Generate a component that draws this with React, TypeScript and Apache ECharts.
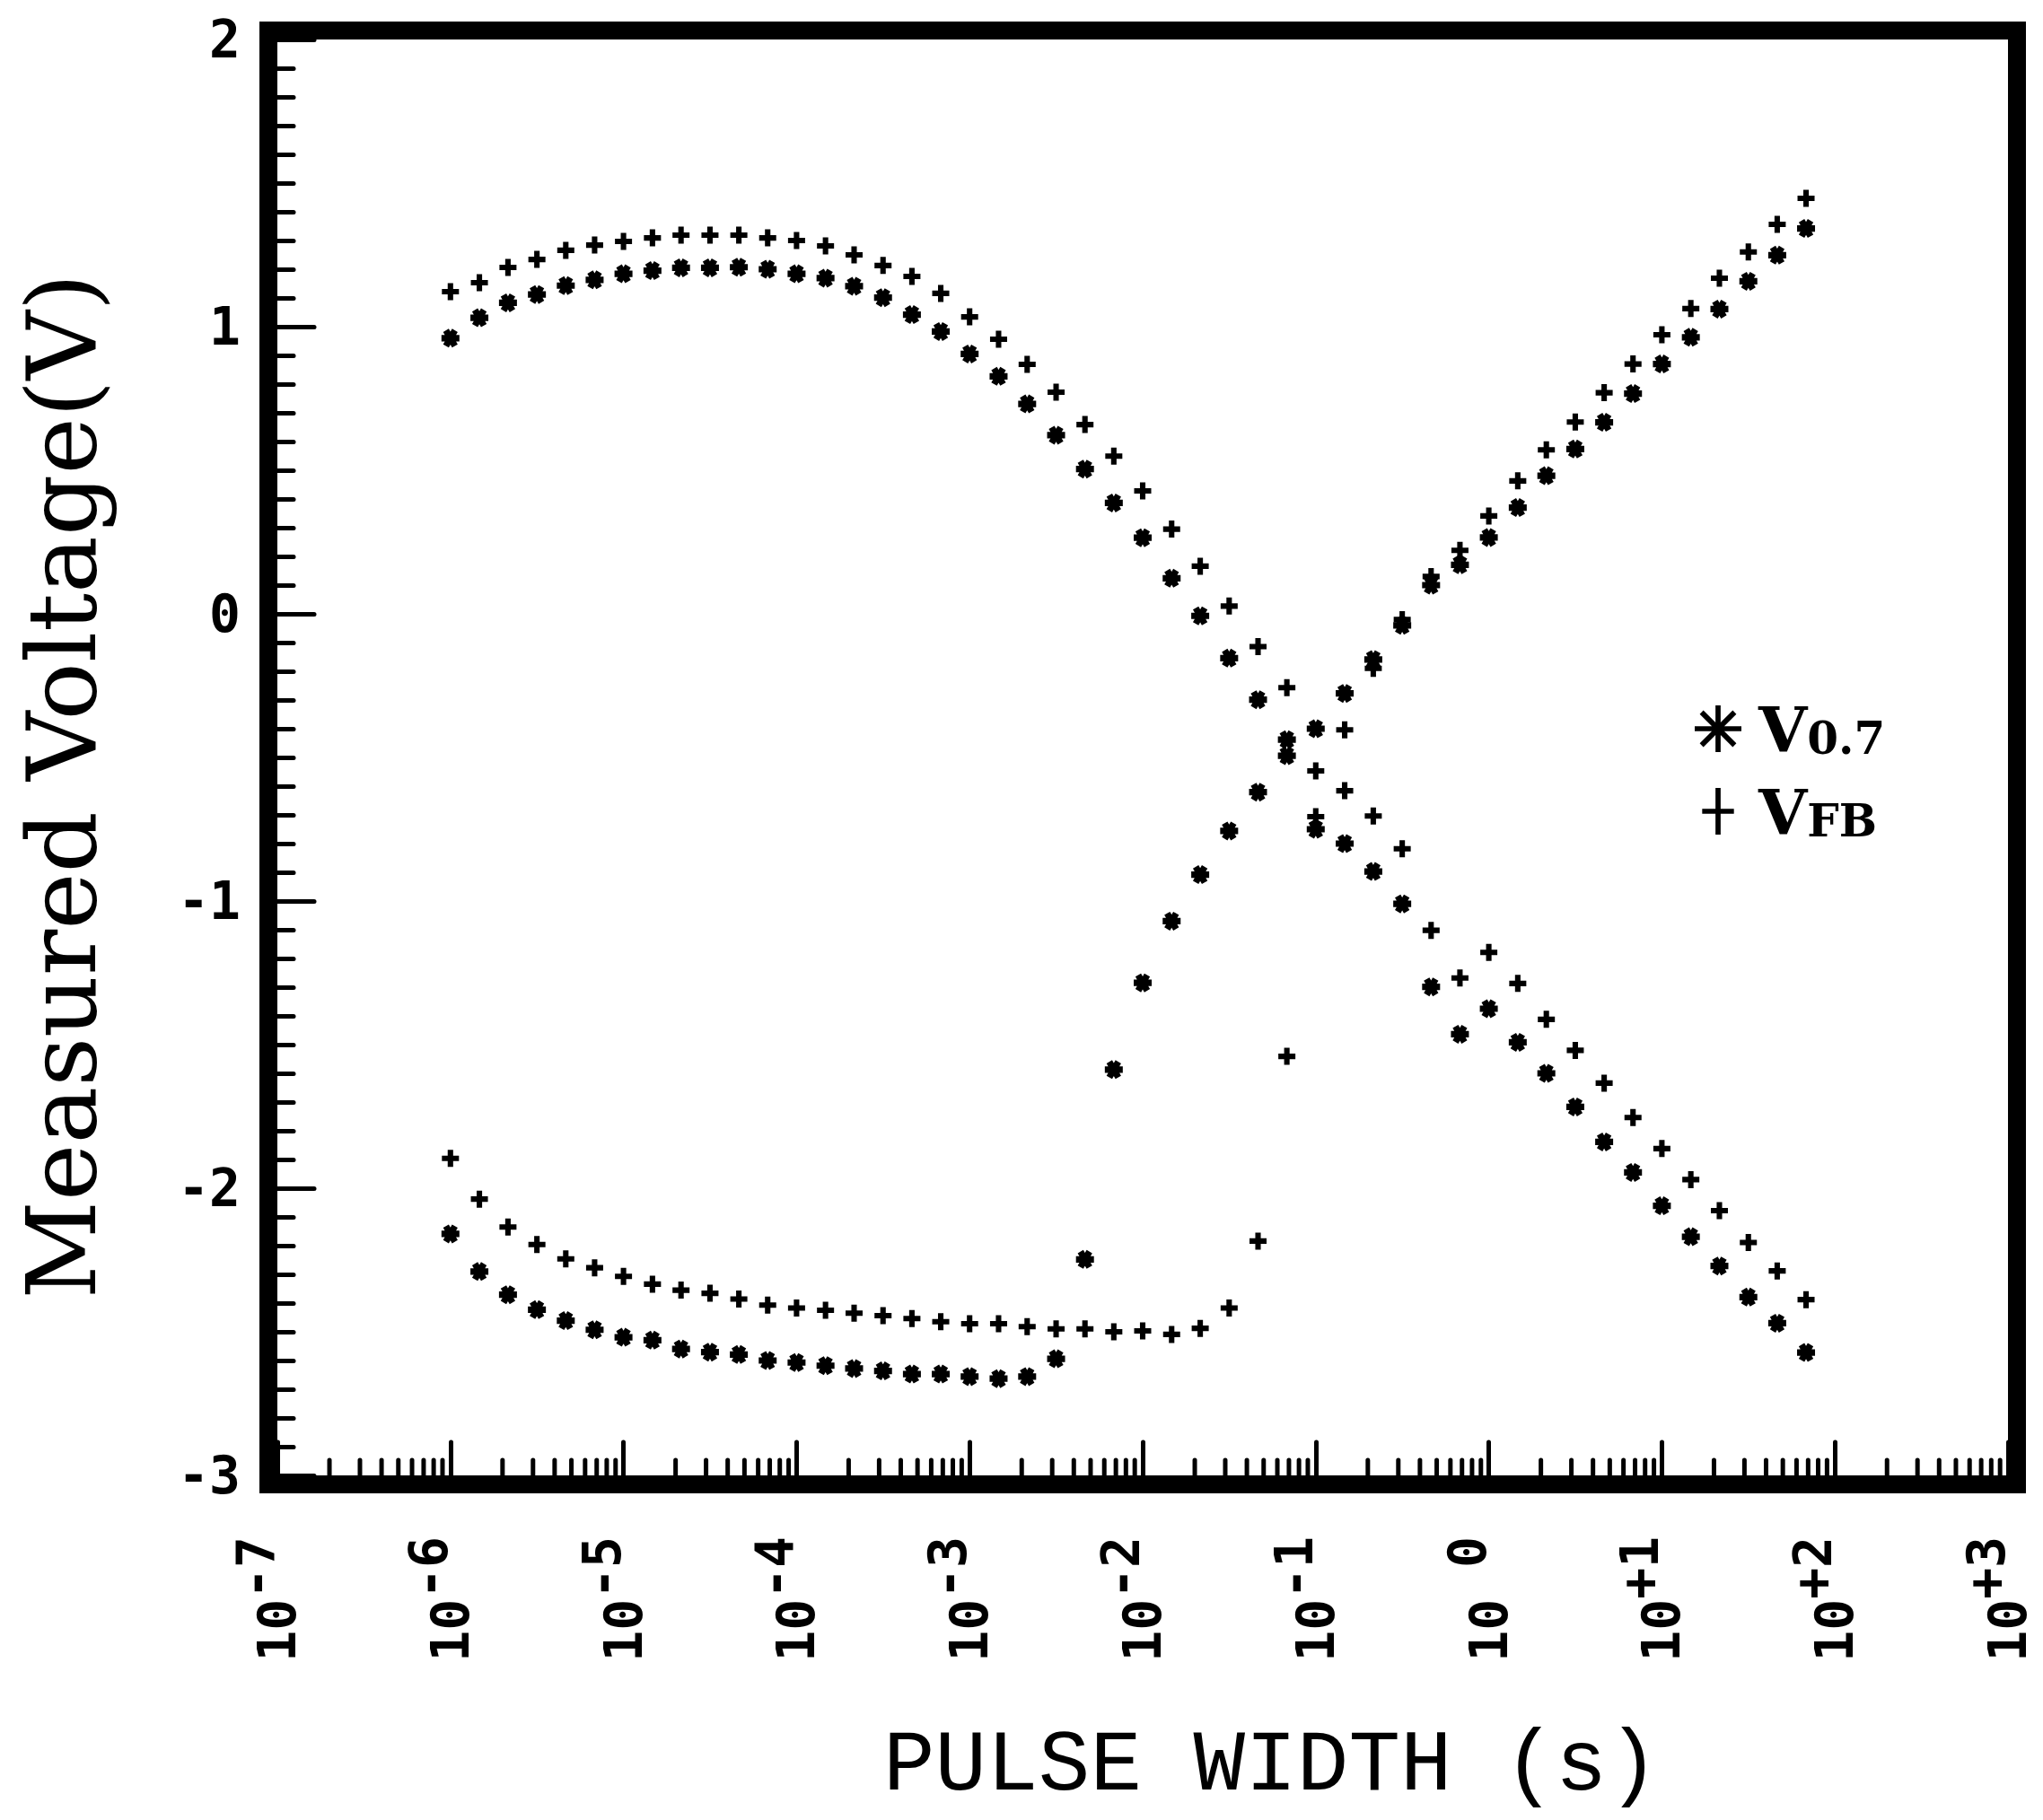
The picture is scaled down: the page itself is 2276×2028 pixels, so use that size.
import React, { useEffect, useRef } from 'react';
import * as echarts from 'echarts';

// ---------- data ----------
// pulse widths in seconds (6 points per decade)
const pulseWidth = [
  1.0e-6, 1.47e-6, 2.15e-6, 3.16e-6, 4.64e-6, 6.81e-6,
  1.0e-5, 1.47e-5, 2.15e-5, 3.16e-5, 4.64e-5, 6.81e-5,
  1.0e-4, 1.47e-4, 2.15e-4, 3.16e-4, 4.64e-4, 6.81e-4,
  1.0e-3, 1.47e-3, 2.15e-3, 3.16e-3, 4.64e-3, 6.81e-3,
  1.0e-2, 1.47e-2, 2.15e-2, 3.16e-2, 4.64e-2, 6.81e-2,
  0.1, 0.147, 0.215, 0.316, 0.464, 0.681,
  1, 1.47, 2.15, 3.16, 4.64, 6.81,
  10, 14.7, 21.5, 31.6, 46.4, 68.1,
];

// V_FB, falling branch (+)
const vfbFall = [
  1.122, 1.153, 1.206, 1.234, 1.266, 1.284, 1.297, 1.309, 1.319, 1.319,
  1.319, 1.309, 1.300, 1.281, 1.250, 1.213, 1.175, 1.116, 1.034, 0.956,
  0.869, 0.772, 0.659, 0.549, 0.428, 0.295, 0.166, 0.027, -0.114, -0.257,
  -0.547, -0.616, -0.704, -0.818, -1.102, -1.268, -1.179, -1.287, -1.412, -1.520,
  -1.634, -1.754, -1.862, -1.970, -2.078, -2.189, -2.288, -2.388,
];

// V_0.7, falling branch (*)
const v07Fall = [
  0.960, 1.031, 1.083, 1.112, 1.143, 1.163, 1.184, 1.195, 1.205, 1.205,
  1.207, 1.200, 1.184, 1.169, 1.141, 1.101, 1.042, 0.983, 0.905, 0.827,
  0.731, 0.622, 0.504, 0.386, 0.265, 0.124, -0.007, -0.154, -0.299, -0.438,
  -0.750, -0.800, -0.897, -1.010, -1.299, -1.464, -1.375, -1.492, -1.600, -1.717,
  -1.839, -1.945, -2.061, -2.169, -2.271, -2.379, -2.470, -2.572,
];

// V_FB, rising branch (+)
const vfbRise = [
  -1.896, -2.038, -2.135, -2.196, -2.246, -2.277, -2.307, -2.334, -2.355, -2.366,
  -2.386, -2.407, -2.417, -2.425, -2.435, -2.444, -2.454, -2.465, -2.472, -2.472,
  -2.482, -2.490, -2.490, -2.500, -2.497, -2.509, -2.488, -2.417, -2.184, -1.541,
  -0.706, -0.404, -0.190, -0.020, 0.130, 0.221, 0.341, 0.463, 0.571, 0.668,
  0.770, 0.870, 0.972, 1.063, 1.169, 1.260, 1.356, 1.447,
];

// V_0.7, rising branch (*)
const v07Rise = [
  -2.159, -2.290, -2.371, -2.423, -2.461, -2.493, -2.519, -2.529, -2.560, -2.571,
  -2.579, -2.600, -2.607, -2.618, -2.628, -2.636, -2.647, -2.647, -2.656, -2.663,
  -2.656, -2.594, -2.248, -1.587, -1.285, -1.070, -0.908, -0.756, -0.621, -0.494,
  -0.400, -0.277, -0.159, -0.040, 0.100, 0.171, 0.266, 0.370, 0.481, 0.574,
  0.667, 0.767, 0.870, 0.963, 1.061, 1.158, 1.249, 1.342,
];

// axis ticks / labels
const decadeExponents = [-7, -6, -5, -4, -3, -2, -1, 0, 1, 2, 3];
const exponentLabels = ['-7', '-6', '-5', '-4', '-3', '-2', '-1', '0', '+1', '+2', '+3'];
const minorMultipliers = [2, 3, 4, 5, 6, 7, 8, 9];
const yMin = -3;
const yMax = 2;

// ---------- layout & style ----------
const W = 2276;
const H = 2028;
const GRID = { left: 309, top: 44, right: 39, bottom: 384 };
const FRAME_WIDTH = 20;
const MINOR_TICK_LEN = 17;

const STAR_SYMBOL =
  'path://M0,3.2L10,3.2L10,6.8L0,6.8Z M4.059,-0.23L9.059,8.43L5.941,10.23L0.941,1.57Z M9.059,1.57L4.059,10.23L0.941,8.43L5.941,-0.23Z';
const PLUS_SYMBOL = 'path://M3.4,0L6.6,0L6.6,10L3.4,10Z M0,3.4L10,3.4L10,6.6L0,6.6Z';
const STAR_ICON =
  'path://M0,4.45L10,4.45L10,5.55L0,5.55Z M4.45,0L5.55,0L5.55,10L4.45,10Z M1.853,1.075L8.925,8.147L8.147,8.925L1.075,1.853Z M8.925,1.853L1.853,8.925L1.075,8.147L8.147,1.075Z';
const PLUS_ICON = 'path://M4.45,0L5.55,0L5.55,10L4.45,10Z M1.6,4.45L8.4,4.45L8.4,5.55L1.6,5.55Z M0,5L0,5Z M10,5L10,5Z';

const MONO = 'DejaVu Sans Mono';
const SERIF = 'DejaVu Serif';

function toPoints(values: number[]) {
  return pulseWidth.map((t, i) => [Math.log10(t), values[i]]);
}

function buildOption() {
  const minorTickData: number[][] = [];
  decadeExponents.slice(0, -1).forEach((e) => {
    minorMultipliers.forEach((m) => minorTickData.push([e + Math.log10(m), yMin]));
  });

  const gridRight = W - GRID.right;
  const gridBottom = H - GRID.bottom;

  const markerStyle = { color: '#000', opacity: 1 };

  return {
    animation: false,
    backgroundColor: '#ffffff',
    grid: {
      left: GRID.left,
      top: GRID.top,
      right: GRID.right,
      bottom: GRID.bottom,
      containLabel: false,
      outerBoundsMode: 'none',
    },
    legend: {
      orient: 'vertical',
      left: 1888,
      top: 755,
      padding: 0,
      itemGap: 0,
      itemWidth: 52,
      itemHeight: 52,
      selectedMode: false,
      data: [
        { name: 'V0.7', icon: STAR_ICON },
        { name: 'VFB', icon: PLUS_ICON },
      ],
      formatter: (name: string) => (name === 'V0.7' ? '{v|V}{s|0.7}' : '{v|V}{s|FB}'),
      textStyle: {
        color: '#000',
        fontFamily: SERIF,
        rich: {
          v: {
            fontFamily: SERIF,
            fontSize: 70,
            fontWeight: 'bold',
            color: '#000',
            lineHeight: 70,
            verticalAlign: 'top',
            padding: [0, 0, 0, 14],
          },
          s: {
            fontFamily: SERIF,
            fontSize: 50,
            fontWeight: 'bold',
            color: '#000',
            lineHeight: 50,
            verticalAlign: 'bottom',
            padding: [42, 0, 0, 0],
          },
        },
      },
    },
    xAxis: {
      type: 'value',
      min: decadeExponents[0],
      max: decadeExponents[decadeExponents.length - 1],
      interval: 1,
      name: 'PULSE WIDTH (s)',
      nameLocation: 'middle',
      nameGap: 276,
      nameTextStyle: {
        fontFamily: 'Liberation Mono',
        fontSize: 96,
        color: '#000',
        padding: [0, 0, 0, 286],
      },
      axisLine: { show: false, onZero: false },
      splitLine: { show: false },
      axisTick: {
        show: true,
        inside: true,
        length: 37,
        lineStyle: { color: '#000', width: 5, cap: 'round' },
      },
      axisLabel: {
        show: true,
        rotate: 90,
        margin: 68,
        color: '#000',
        fontFamily: MONO,
        fontWeight: 'bold',
        fontSize: 58,
        formatter: (v: number) => {
          const i = decadeExponents.indexOf(Math.round(v));
          const ex = exponentLabels[i];
          return ex === '0' ? '{b|10}{z|0}' : '{b|10}{e|' + ex + '}';
        },
        rich: {
          b: { fontFamily: MONO, fontWeight: 'bold', fontSize: 58, lineHeight: 58, color: '#000', verticalAlign: 'middle' },
          e: {
            fontFamily: MONO,
            fontWeight: 'bold',
            fontSize: 58,
            lineHeight: 58,
            color: '#000',
            verticalAlign: 'middle',
            padding: [0, 0, 48, 0],
          },
          z: {
            fontFamily: MONO,
            fontWeight: 'bold',
            fontSize: 58,
            lineHeight: 58,
            color: '#000',
            verticalAlign: 'middle',
            padding: [0, 0, 48, 35],
          },
        },
      },
    },
    yAxis: {
      type: 'value',
      min: yMin,
      max: yMax,
      interval: 1,
      name: 'Measured Voltage(V)',
      nameLocation: 'middle',
      nameRotate: 90,
      nameGap: 187,
      nameTextStyle: {
        fontFamily: SERIF,
        fontSize: 107,
        color: '#000',
        padding: [0, 64, 0, 0],
      },
      axisLine: { show: false, onZero: false },
      splitLine: { show: false },
      axisTick: {
        show: true,
        inside: true,
        length: 41,
        lineStyle: { color: '#000', width: 5, cap: 'round' },
      },
      minorTick: {
        show: true,
        splitNumber: 10,
        length: 18,
        lineStyle: { color: '#000', width: 5, cap: 'round' },
      },
      minorSplitLine: { show: false },
      axisLabel: {
        margin: 41,
        color: '#000',
        fontFamily: MONO,
        fontWeight: 'bold',
        fontSize: 58,
        formatter: (v: number) => String(v),
      },
    },
    graphic: [
      {
        type: 'rect',
        z: 100,
        silent: true,
        shape: {
          x: GRID.left - FRAME_WIDTH / 2,
          y: GRID.top - FRAME_WIDTH / 2,
          width: gridRight - GRID.left + FRAME_WIDTH,
          height: gridBottom - GRID.top + FRAME_WIDTH,
        },
        style: { fill: 'none', stroke: '#000', lineWidth: FRAME_WIDTH },
      },
    ],
    series: [
      {
        type: 'custom',
        name: 'minor ticks',
        silent: true,
        z: 1,
        renderItem: (_params: any, api: any) => {
          const p = api.coord([api.value(0), api.value(1)]);
          return {
            type: 'line',
            shape: { x1: p[0], y1: p[1], x2: p[0], y2: p[1] - MINOR_TICK_LEN },
            style: { stroke: '#000', lineWidth: 5, lineCap: 'round' },
          };
        },
        encode: { x: 0, y: 1 },
        data: minorTickData,
      },
      {
        type: 'scatter',
        name: 'VFB',
        symbol: PLUS_SYMBOL,
        symbolSize: 19,
        itemStyle: markerStyle,
        data: toPoints(vfbFall),
        z: 3,
      },
      {
        type: 'scatter',
        name: 'V0.7',
        symbol: STAR_SYMBOL,
        symbolSize: [20, 21],
        itemStyle: markerStyle,
        data: toPoints(v07Fall),
        z: 3,
      },
      {
        type: 'scatter',
        name: 'VFB',
        symbol: PLUS_SYMBOL,
        symbolSize: 19,
        itemStyle: markerStyle,
        data: toPoints(vfbRise),
        z: 3,
      },
      {
        type: 'scatter',
        name: 'V0.7',
        symbol: STAR_SYMBOL,
        symbolSize: [20, 21],
        itemStyle: markerStyle,
        data: toPoints(v07Rise),
        z: 3,
      },
    ],
  };
}

export default function App() {
  const ref = useRef<HTMLDivElement>(null);
  useEffect(() => {
    document.body.style.margin = '0';
    if (!ref.current) return;
    const chart = echarts.init(ref.current, null, { renderer: 'svg', width: W, height: H });
    chart.setOption(buildOption() as any);
    return () => chart.dispose();
  }, []);
  return (
    <div
      ref={ref}
      style={{ position: 'absolute', left: 0, top: 0, width: W, height: H, background: '#fff' }}
    />
  );
}
